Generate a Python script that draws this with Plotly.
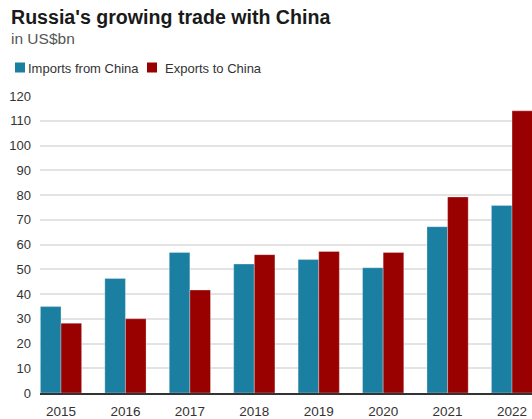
import plotly.graph_objects as go

# Russia-China bilateral trade, US$bn
years = ["2015", "2016", "2017", "2018", "2019", "2020", "2021", "2022"]
imports_from_china = [34.9, 46.3, 56.8, 52.1, 53.9, 50.6, 67.2, 75.8]
exports_to_china = [28.2, 30.0, 41.6, 55.9, 57.2, 56.8, 79.2, 114.0]
series_names = ["Imports from China", "Exports to China"]
series_colors = ["#1a7fa1", "#990000"]
y_ticks = list(range(0, 121, 10))

W, H = 532, 419
ML, MR, MT, MB = 40, 0, 96, 26
plot_w, plot_h = W - ML - MR, H - MT - MB


def px(x):
    return (x - ML) / plot_w


def py(y):
    return (H - MB - y) / plot_h


fig = go.Figure()
for name, vals, col in zip(series_names, [imports_from_china, exports_to_china], series_colors):
    fig.add_trace(go.Bar(
        x=years, y=vals, name=name,
        marker=dict(color=col, line=dict(width=0.6, color="rgba(255,255,255,0.5)")),
        showlegend=False,
    ))

font = "Liberation Sans, Arial, sans-serif"

annotations = [
    dict(text="<b>Russia's growing trade with China</b>", x=px(9), y=py(17),
         font=dict(size=19.6, color="#1a1a1a", family=font)),
    dict(text="in US$bn", x=px(9), y=py(38.5),
         font=dict(size=15.5, color="#555555", family=font)),
]
shapes = []
# legend keys
legend_pos = [(15, 26), (147, 163)]
for (sx, tx), name, col in zip(legend_pos, series_names, series_colors):
    shapes.append(dict(type="rect", xref="paper", yref="paper",
                       x0=px(sx), x1=px(sx + 10), y0=py(72.5), y1=py(62.5),
                       fillcolor=col, line=dict(width=0)))
    annotations.append(dict(text=name, x=px(tx), y=py(68),
                            font=dict(size=13, color="#333333", family=font)))
for a in annotations:
    a.update(xref="paper", yref="paper", xanchor="left", yanchor="middle",
             showarrow=False)

fig.update_layout(
    width=W, height=H,
    margin=dict(l=ML, r=MR, t=MT, b=MB, pad=0),
    paper_bgcolor="white", plot_bgcolor="white",
    barmode="group", bargap=0.36, bargroupgap=0,
    annotations=annotations, shapes=shapes,
    font=dict(family=font, size=13, color="#333333"),
)
fig.update_xaxes(
    type="category", range=[-0.326, 7.31],
    showgrid=False, showline=True, linecolor="#333333", linewidth=2,
    ticks="", ticklabelstandoff=5,
    tickfont=dict(size=13.5, color="#333333"),
)
fig.update_yaxes(
    range=[0, 120], tickvals=y_ticks,
    showgrid=True, gridcolor="#e3e3e3", gridwidth=1.5,
    zeroline=False, showline=False, ticks="", ticklabelstandoff=8,
    tickfont=dict(size=13, color="#333333"),
)

fig.write_html("out.html")
